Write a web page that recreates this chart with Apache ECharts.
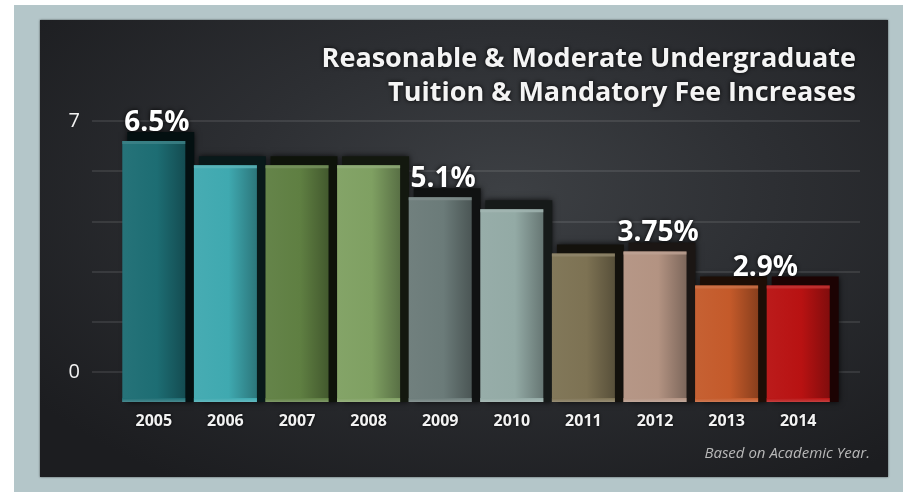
<!DOCTYPE html>
<html>
<head>
<meta charset="utf-8">
<script src="https://cdn.jsdelivr.net/npm/echarts@6/dist/echarts.min.js"></script>
<style>
  html, body { margin: 0; padding: 0; background: #ffffff; }
  #wrap { position: relative; width: 910px; height: 492px; overflow: hidden; }
  #frame { position: absolute; left: 14px; top: 5px; width: 889px; height: 487px; background: #b4c6c9; }
  #panel {
    position: absolute; left: 40px; top: 20px; width: 848px; height: 457px;
    background: radial-gradient(ellipse 70% 75% at 55% 38%, #3d4044 0%, #2d2f33 45%, #1c1d20 100%);
    box-shadow: 0 0 2px rgba(0,0,0,0.6);
  }
  #chart { position: absolute; left: 0; top: 0; width: 910px; height: 492px; }
</style>
</head>
<body>
<div id="wrap">
  <div id="frame"></div>
  <div id="panel"></div>
  <div id="chart"></div>
</div>
<script>
// Academic years and the tuition & mandatory fee increase (%) for each
const years = ['2005', '2006', '2007', '2008', '2009', '2010', '2011', '2012', '2013', '2014'];
const increases = [6.5, 5.9, 5.9, 5.9, 5.1, 4.8, 3.7, 3.75, 2.9, 2.9];
const barColors = ['#1d6d73', '#3fa9b0', '#5f7f42', '#7fa062', '#6b7b79',
                   '#93aaa5', '#7d7253', '#b39382', '#c45a2a', '#b81212'];
// Which years each call-out label covers (first, last)
const calloutSpans = [['2005', '2005'], ['2009', '2009'], ['2012', '2012'], ['2013', '2014']];
// Y-axis scale and the tick values that carry a label
const yMax = 7;
const yStep = 1.4;
const yLabelled = [0, 7];
// Title lines and footnote
const titleLines = ['Reasonable & Moderate Undergraduate', 'Tuition & Mandatory Fee Increases'];
const footnote = 'Based on Academic Year.';

const chart = echarts.init(document.getElementById('chart'), null, { renderer: 'canvas' });

// Mix a colour toward white (f > 0) or black (f < 0)
function shade(c, f) {
  const p = echarts.color.parse(c);
  const t = f < 0 ? 0 : 255;
  const k = Math.abs(f);
  const r = Math.round(p[0] + (t - p[0]) * k);
  const g = Math.round(p[1] + (t - p[1]) * k);
  const b = Math.round(p[2] + (t - p[2]) * k);
  return 'rgb(' + r + ',' + g + ',' + b + ')';
}

function renderBar(params, api) {
  const i = params.dataIndex;
  const top = api.coord([api.value(0), api.value(1)]);
  const base = api.coord([api.value(0), 0]);
  const w = api.size([1, 0])[0] * 0.88;
  const x = top[0] - w / 2;
  const h = base[1] - top[1];
  const c = barColors[i];
  return {
    type: 'group',
    children: [
      {
        type: 'rect',
        shape: { x: x + 5, y: top[1] - 9, width: w + 4, height: h + 9 },
        style: { fill: shade(c, -0.85), shadowBlur: 6, shadowColor: 'rgba(0,0,0,0.8)' }
      },
      {
        type: 'rect',
        shape: { x: x, y: top[1], width: w, height: h },
        style: {
          fill: new echarts.graphic.LinearGradient(0, 0, 1, 0, [
            { offset: 0, color: shade(c, 0.04) },
            { offset: 0.55, color: c },
            { offset: 1, color: shade(c, -0.3) }
          ])
        }
      },
      {
        type: 'rect',
        shape: { x: x, y: top[1], width: w, height: 3 },
        style: { fill: shade(c, 0.15), opacity: 0.8 }
      },
      {
        type: 'rect',
        shape: { x: x, y: base[1] - 4, width: w, height: 4 },
        style: {
          fill: new echarts.graphic.LinearGradient(0, 0, 0, 1, [
            { offset: 0, color: c },
            { offset: 1, color: shade(c, 0.2) }
          ])
        }
      }
    ]
  };
}

function renderCallout(params, api) {
  const span = calloutSpans[params.dataIndex];
  const a = years.indexOf(span[0]);
  const b = years.indexOf(span[1]);
  const v = increases[b];
  const pa = api.coord([a, v]);
  const pb = api.coord([b, v]);
  return {
    type: 'text',
    style: {
      x: (pa[0] + pb[0]) / 2 + 3,
      y: pa[1] - 4,
      text: v + '%',
      fill: '#ffffff',
      font: 'bold 28px "Open Sans", sans-serif',
      textAlign: 'center',
      textVerticalAlign: 'bottom',
      textShadowColor: 'rgba(0,0,0,0.95)',
      textShadowBlur: 4
    }
  };
}

const titleStyle = {
  fill: '#f4f4f4',
  font: 'bold 27px "Open Sans", sans-serif',
  textShadowColor: 'rgba(0,0,0,0.95)',
  textShadowBlur: 4
};

const option = {
  animation: false,
  backgroundColor: 'transparent',
  graphic: [
    { type: 'text', right: 54, top: 46, style: Object.assign({ text: titleLines[0] }, titleStyle) },
    { type: 'text', right: 54, top: 80, style: Object.assign({ text: titleLines[1] }, titleStyle) },
    {
      type: 'text',
      right: 40,
      top: 446,
      style: {
        text: footnote,
        fill: '#b8b8b8',
        font: 'italic 15px "Open Sans", sans-serif'
      }
    }
  ],
  grid: [
    { left: 92, right: 50, top: 121, bottom: 120 },
    { left: 118, right: 76, top: 121, bottom: 90 }
  ],
  xAxis: [
    { gridIndex: 0, type: 'value', show: false, min: 0, max: 1 },
    {
      gridIndex: 1, type: 'category', data: years,
      axisLine: { show: false }, axisTick: { show: false },
      axisLabel: {
        color: '#f2f2f2', fontSize: 16, fontWeight: 'bold',
        fontFamily: '"Open Sans", sans-serif', margin: 11,
        textShadowColor: 'rgba(0,0,0,0.9)', textShadowBlur: 3
      }
    }
  ],
  yAxis: [
    {
      gridIndex: 0, type: 'value', min: 0, max: yMax, interval: yStep,
      axisLine: { show: false }, axisTick: { show: false },
      splitLine: { show: true, lineStyle: { color: 'rgba(255,255,255,0.13)', width: 1.5 } },
      axisLabel: {
        color: '#f2f2f2', fontSize: 20, margin: 12,
        fontFamily: '"Open Sans", sans-serif',
        formatter: function (v) {
          return yLabelled.some(function (t) { return Math.abs(t - v) < 1e-6; }) ? String(Math.round(v)) : '';
        }
      }
    },
    { gridIndex: 1, type: 'value', min: 0, max: yMax, show: false }
  ],
  series: [
    {
      type: 'custom',
      xAxisIndex: 1, yAxisIndex: 1,
      renderItem: renderBar,
      clip: false,
      z: 3,
      data: increases.map(function (v, i) { return [i, v]; })
    },
    {
      type: 'custom',
      xAxisIndex: 1, yAxisIndex: 1,
      renderItem: renderCallout,
      clip: false,
      z: 5,
      data: calloutSpans.map(function (s) {
        return [years.indexOf(s[0]), increases[years.indexOf(s[1])]];
      })
    }
  ]
};

chart.setOption(option);
</script>
</body>
</html>
